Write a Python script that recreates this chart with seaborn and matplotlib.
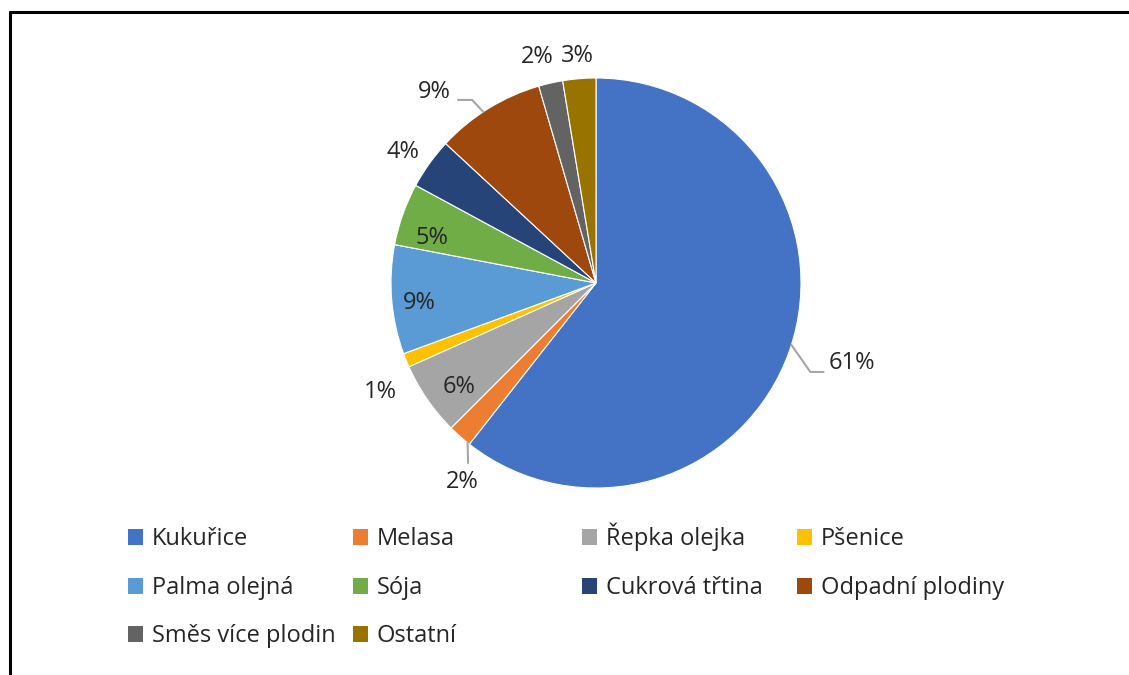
import numpy as np
import matplotlib
matplotlib.use("Agg")
import matplotlib.pyplot as plt
from matplotlib.lines import Line2D
from matplotlib.patches import Patch
import seaborn as sns

# Data (podíl surovin, %)
categories = ["Kukuřice", "Melasa", "Řepka olejka", "Pšenice", "Palma olejná",
              "Sója", "Cukrová třtina", "Odpadní plodiny", "Směs více plodin", "Ostatní"]
shares = [60.6, 1.9, 5.8, 1.1, 8.6, 4.9, 4.0, 8.6, 1.9, 2.6]
colors = ["#4472C4", "#ED7D31", "#A5A5A5", "#FFC000", "#5B9BD5",
          "#70AD47", "#264478", "#9E480E", "#636363", "#997300"]

# umístění popisků (posun úhlu ve stupních, poloměr) - jen vzhled
label_offset = [1.7, 7.6, 2.6, 4.7, 1.8, 4.2, 1.5, 8.7, 1.8, 0.1]
label_radius = [1.31, 1.17, 0.84, 1.18, 0.865, 0.83, 1.14, 1.22, 1.14, 1.11]

sns.set_theme(style="white")
plt.rcParams["font.family"] = ["Open Sans", "DejaVu Sans"]
palette = sns.color_palette(colors)

fig = plt.figure(figsize=(11.29, 6.75), dpi=100)
fig.patch.set_facecolor("white")

ax = fig.add_axes([391 / 1129, (675 - 488) / 675, 410 / 1129, 410 / 675])
wedges, _ = ax.pie(shares, colors=palette, startangle=90, counterclock=False,
                   radius=1, wedgeprops=dict(edgecolor="white", linewidth=0.8))
ax.set_xlim(-1, 1)
ax.set_ylim(-1, 1)
ax.set_aspect("equal")
ax.axis("off")

txt_color = "#262626"
lead_color = "#A6A6A6"
fs = 17
total = sum(shares)
for i, w in enumerate(wedges):
    mid = np.deg2rad((w.theta1 + w.theta2) / 2 + label_offset[i])
    r = label_radius[i]
    pos = (r * np.cos(mid), r * np.sin(mid))
    label = f"{round(shares[i] / total * 100):.0f}%"
    ax.text(pos[0], pos[1], label, ha="center", va="center", fontsize=fs, color=txt_color)

# vodicí čáry
def leader(i, dtheta, xytext, conn):
    w = wedges[i]
    a = np.deg2rad((w.theta1 + w.theta2) / 2 + dtheta)
    ax.annotate("", xy=(np.cos(a), np.sin(a)), xytext=xytext,
                arrowprops=dict(arrowstyle="-", color=lead_color, lw=1.5,
                                shrinkA=0, shrinkB=0, connectionstyle=conn))

leader(0, 1.5, (1.11, -0.434), "angle,angleA=0,angleB=-55,rad=0")
leader(1, 2.8, (-0.624, -0.878), "arc3,rad=0")
leader(7, 1.7, (-0.673, 0.893), "angle,angleA=0,angleB=-47,rad=0")

# legenda: 4 sloupce, 3 řádky (zarovnání podle spodní hrany textu)
col_x = [128, 353, 582, 797]
row_y = [551, 600, 648]
for k, name in enumerate(categories):
    c, r = k % 4, k // 4
    fig.legend([Patch(facecolor=palette[k], edgecolor="none")], [name],
               loc="lower left", bbox_to_anchor=(col_x[c] / 1129, 1 - row_y[r] / 675),
               frameon=False, borderpad=0, borderaxespad=0, handlelength=0.64,
               handleheight=0.64, handletextpad=0.36, fontsize=fs, labelcolor=txt_color)

# rámeček (horní a levá hrana)
fig.add_artist(Line2D([9.5 / 1129, 1], [1 - 12 / 675, 1 - 12 / 675], color="black", lw=2.2))
fig.add_artist(Line2D([9.5 / 1129, 9.5 / 1129], [0, 1 - 12 / 675], color="black", lw=2.2))

fig.savefig("out.png", dpi=100, facecolor="white")
